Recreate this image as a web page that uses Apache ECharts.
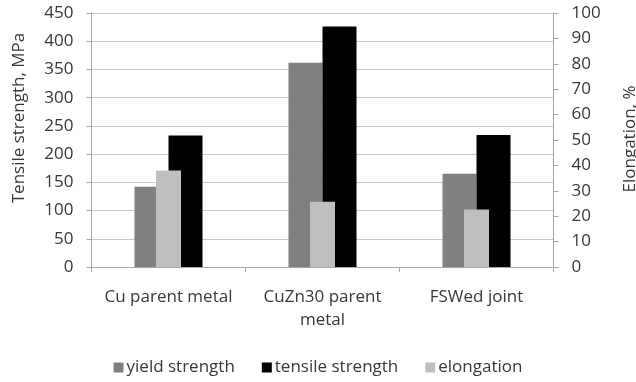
<!DOCTYPE html>
<html><head><meta charset="utf-8">
<script src="https://cdn.jsdelivr.net/npm/echarts@6/dist/echarts.min.js"></script>
<style>html,body{margin:0;padding:0;background:#fff}#c{width:636px;height:382px}</style>
</head><body><div id="c"></div>
<script>
var categories = ['Cu parent metal', 'CuZn30 parent\nmetal', 'FSWed joint'];
var yieldStrength = [142, 362, 165];
var tensileStrength = [233, 426, 234];
var elongation = [38, 25.7, 22.6];
var leftTicks = {min: 0, max: 450, interval: 50};
var rightTicks = {min: 0, max: 100, interval: 10};

var FONT = 'Open Sans';
var TXT = '#383838';
var chart = echarts.init(document.getElementById('c'), null, {renderer: 'canvas'});
chart.setOption({
  animation: false,
  textStyle: {fontFamily: FONT},
  grid: {left: 91.5, right: 82.5, top: 13, height: 254},
  legend: {
    bottom: 1, left: 'center', itemWidth: 10, itemHeight: 10, itemGap: 27,
    textStyle: {fontFamily: FONT, fontSize: 17, color: TXT, padding: [0, 0, 0, -2]},
    data: [{name: 'yield strength', icon: 'rect'}, {name: 'tensile strength', icon: 'rect'}, {name: 'elongation', icon: 'rect'}]
  },
  xAxis: [{
    type: 'category', data: categories,
    axisLine: {lineStyle: {color: '#a6a6a6'}},
    axisTick: {show: true, length: 5, lineStyle: {color: '#a6a6a6'}},
    axisLabel: {interval: 0, hideOverlap: false, fontFamily: FONT, fontSize: 17, color: TXT, margin: 19, lineHeight: 23}
  }, {
    type: 'category', data: categories, show: false
  }],
  yAxis: [{
    type: 'value', min: leftTicks.min, max: leftTicks.max, interval: leftTicks.interval,
    axisLine: {show: true, lineStyle: {color: '#a6a6a6'}},
    axisTick: {show: true, length: 5, lineStyle: {color: '#a6a6a6'}},
    axisLabel: {fontFamily: FONT, fontSize: 17, color: TXT, margin: 18},
    splitLine: {show: true, lineStyle: {color: '#c8c8c8', width: 1}}
  }, {
    type: 'value', min: rightTicks.min, max: rightTicks.max, interval: rightTicks.interval,
    position: 'right',
    axisLine: {show: true, lineStyle: {color: '#a6a6a6'}},
    axisTick: {show: true, length: 5, lineStyle: {color: '#a6a6a6'}},
    axisLabel: {fontFamily: FONT, fontSize: 17, color: TXT, margin: 18},
    splitLine: {show: false}
  }],
  graphic: [{
    type: 'text', x: 19, y: 118, rotation: Math.PI / 2,
    style: {text: 'Tensile strength, MPa', fontFamily: FONT, fontSize: 17, fill: TXT, align: 'center', verticalAlign: 'middle'}
  }, {
    type: 'text', x: 630, y: 139, rotation: Math.PI / 2,
    style: {text: 'Elongation, %', fontFamily: FONT, fontSize: 17, fill: TXT, align: 'center', verticalAlign: 'middle'}
  }],
  series: [{
    name: 'yield strength', type: 'bar', xAxisIndex: 0, yAxisIndex: 0,
    data: yieldStrength, barWidth: 34, barGap: '0%', itemStyle: {color: '#808080'}, z: 2
  }, {
    name: 'tensile strength', type: 'bar', xAxisIndex: 0, yAxisIndex: 0,
    data: tensileStrength, barWidth: 34, barGap: '0%', itemStyle: {color: '#000000'}, z: 2
  }, {
    name: 'elongation', type: 'bar', xAxisIndex: 1, yAxisIndex: 1,
    data: elongation, barWidth: 25, itemStyle: {color: '#bfbfbf'}, z: 3
  }]
});
</script></body></html>
